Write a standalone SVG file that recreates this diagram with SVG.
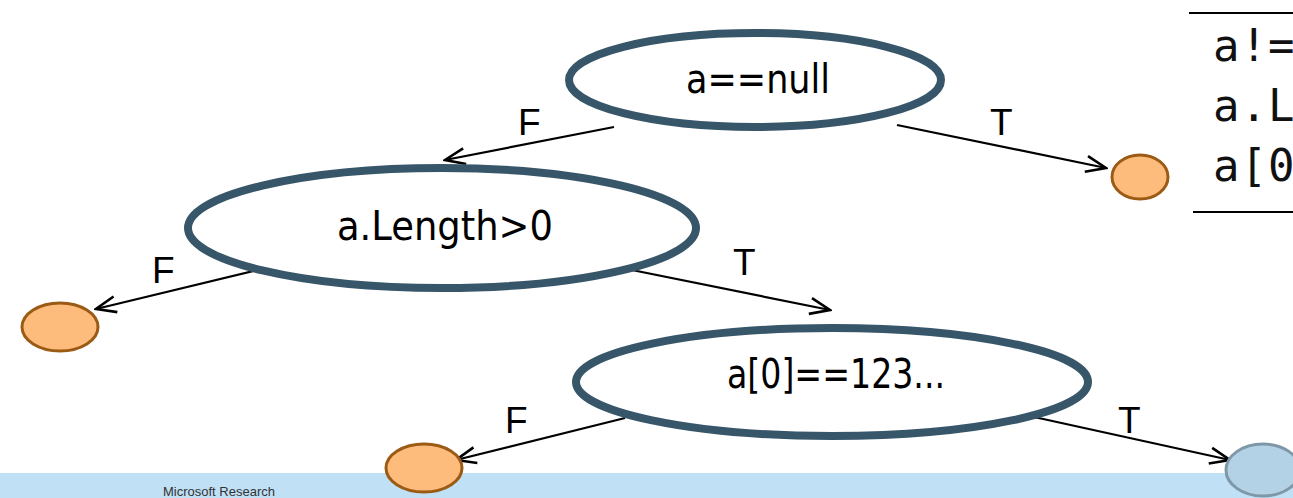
<svg xmlns="http://www.w3.org/2000/svg" width="1293" height="498" viewBox="0 0 1293 498">
<style>
.dec{fill:#ffffff;stroke:#385669;stroke-width:8}
.leaf{fill:#fdbb7c;stroke:#9c5b14;stroke-width:3}
.leafb{fill:#b3d2e5;stroke:#7f98a8;stroke-width:3}
.lbl{font-family:"DejaVu Sans Condensed","DejaVu Sans",sans-serif;font-size:40px;fill:#000}
.edge{stroke:#000;stroke-width:2.2;fill:none;marker-end:url(#arr)}
.tf{font-family:"Liberation Sans",Arial,sans-serif;font-size:37px;fill:#000}
.code{font-family:"DejaVu Sans Mono",monospace;font-size:44px;fill:#111}
</style>
<defs>
<marker id="arr" viewBox="0 0 24 20" refX="22" refY="10" markerWidth="24" markerHeight="20" markerUnits="userSpaceOnUse" orient="auto">
<path d="M2,2 L22,10 L2,18" fill="none" stroke="#000" stroke-width="2.6"/>
</marker>
</defs>
<rect x="0" y="473" width="1293" height="25" fill="#bfe0f5"/>
<text x="163" y="496" font-family="Liberation Sans,Arial,sans-serif" font-size="13" fill="#333">Microsoft Research</text>
<g id="connectors">
<line class="edge" x1="614" y1="127" x2="445" y2="160"/>
<line class="edge" x1="897" y1="125" x2="1106" y2="168"/>
<line class="edge" x1="262" y1="269" x2="96" y2="309"/>
<line class="edge" x1="622" y1="268" x2="830" y2="310"/>
<line class="edge" x1="625" y1="418" x2="456" y2="460"/>
<line class="edge" x1="1025" y1="415" x2="1230" y2="460"/>
<text class="tf" x="518" y="135">F</text>
<text class="tf" x="990" y="135">T</text>
<text class="tf" x="152" y="283">F</text>
<text class="tf" x="733" y="275">T</text>
<text class="tf" x="505" y="433">F</text>
<text class="tf" x="1118" y="433">T</text>
</g>
<g id="n1">
<ellipse class="dec" cx="755" cy="80" rx="186" ry="47"/>
<text class="lbl" x="686" y="93" textLength="144" lengthAdjust="spacingAndGlyphs">a==null</text>
</g>
<g id="n2">
<ellipse class="dec" cx="442" cy="228" rx="254" ry="60"/>
<text class="lbl" x="337" y="240" textLength="216" lengthAdjust="spacingAndGlyphs">a.Length&gt;0</text>
</g>
<g id="n3">
<ellipse class="dec" cx="832" cy="382" rx="256" ry="54"/>
<text class="lbl" x="727" y="388" textLength="218" lengthAdjust="spacingAndGlyphs">a[0]==123...</text>
</g>
<g id="leaf1"><ellipse class="leaf" cx="1140" cy="177" rx="28" ry="22"/></g>
<g id="leaf2"><ellipse class="leaf" cx="60" cy="327" rx="38" ry="24"/></g>
<g id="leaf3"><ellipse class="leaf" cx="424" cy="468" rx="38" ry="24"/></g>
<g id="leaf4"><ellipse class="leafb" cx="1263" cy="470" rx="37" ry="26"/></g>
<g id="code">
<line x1="1189" y1="13" x2="1293" y2="13" stroke="#000" stroke-width="2"/>
<line x1="1193" y1="212" x2="1293" y2="212" stroke="#000" stroke-width="2"/>
<text class="code" x="1213" y="61" letter-spacing="1">a!=</text>
<text class="code" x="1213" y="121" letter-spacing="1">a.L</text>
<text class="code" x="1213" y="181" letter-spacing="1">a[0</text>
</g>
</svg>
